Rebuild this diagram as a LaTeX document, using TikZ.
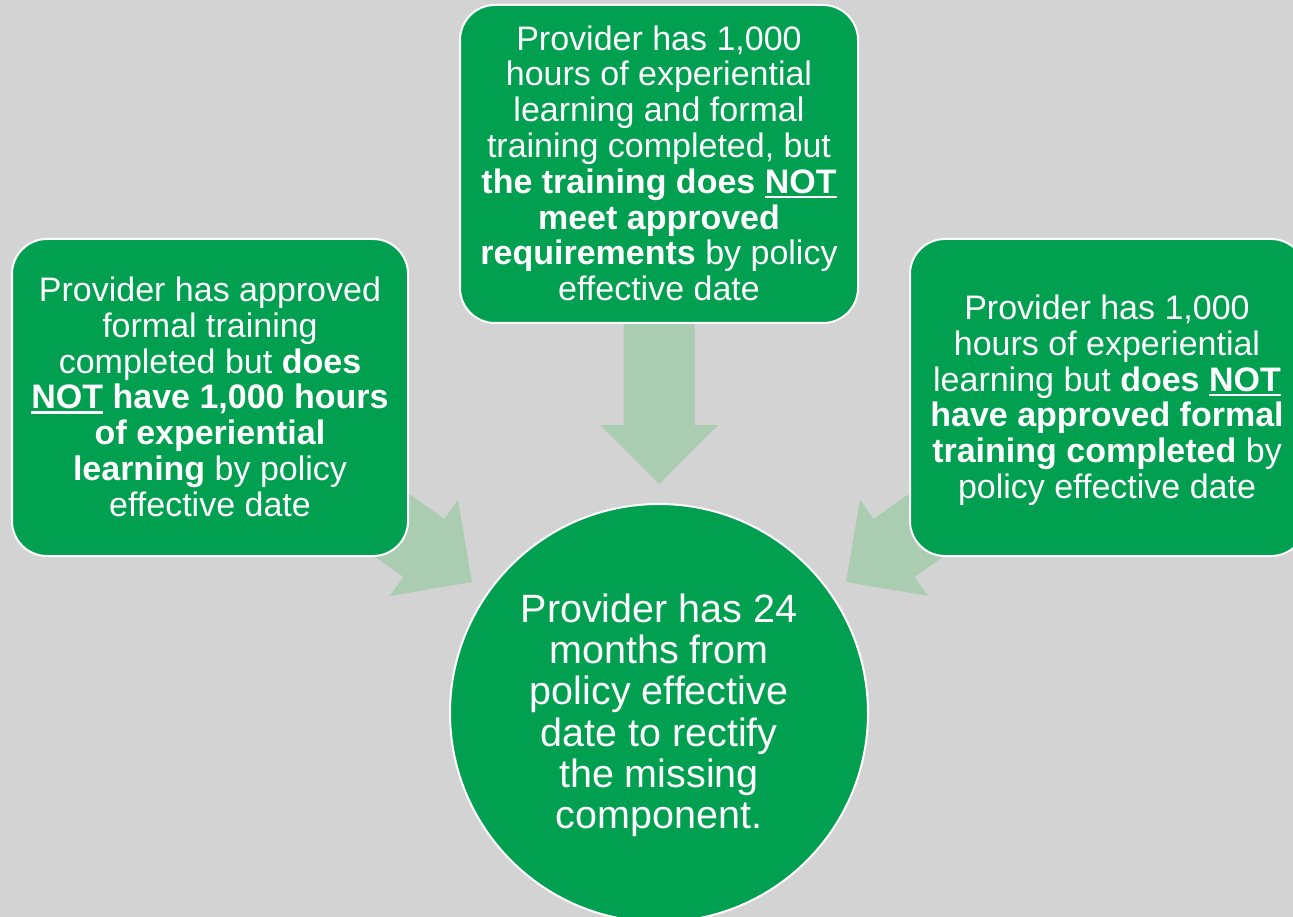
\documentclass[tikz,border=0pt]{standalone}
\usepackage{fontspec}
\setmainfont{Liberation Sans}
\definecolor{bggray}{RGB}{211,211,211}
\definecolor{boxgreen}{RGB}{0,160,80}
\definecolor{arrowgreen}{RGB}{170,205,178}
\newcommand\myul[1]{\leavevmode\setbox0\hbox{#1}\rlap{\rule[-5pt]{\wd0}{2.5pt}}\box0\relax}
\tikzset{
  greenbox/.style={draw=white, line width=2pt, fill=boxgreen, rounded corners=35pt,
    minimum width=396pt, minimum height=317pt, inner sep=0pt},
  greencircle/.style={circle, draw=white, line width=2pt, fill=boxgreen,
    minimum size=418pt, inner sep=0pt},
  boxtext/.style={text=white, align=center, inner sep=0pt, anchor=north,
    font={\fontsize{34pt}{35.8pt}\selectfont\lineskiplimit=-100pt}},
  circtext/.style={text=white, align=center, inner sep=0pt, anchor=north,
    font={\fontsize{39.5pt}{41.2pt}\selectfont\lineskiplimit=-100pt}},
  blockarrow/.style={fill=arrowgreen, draw=none}
}
\begin{document}
\begin{tikzpicture}[x=1pt,y=-1pt]
\useasboundingbox (0,0) rectangle (1293,917);
\clip (0,0) rectangle (1293,917);
\fill[bggray] (0,0) rectangle (1293,917);
% block arrows (behind the boxes)
\fill[blockarrow] (623.5,300) -- (694.5,300) -- (694.5,425) -- (718,425) -- (659,484)
  -- (600,425) -- (623.5,425) -- cycle;
\fill[blockarrow] (305.5,507.5) -- (403.4,576.9) -- (389.8,596.0) -- (472,582)
  -- (458.0,499.8) -- (444.4,518.9) -- (346.5,449.5) -- cycle;
\fill[blockarrow] (1012.5,507.5) -- (914.6,576.9) -- (928.2,596.0) -- (846,582)
  -- (860.0,499.8) -- (873.6,518.9) -- (971.5,449.5) -- cycle;
% boxes
\node[greenbox] (lbox) at (210,397.5) {};
\node[greenbox, minimum width=398pt, minimum height=318pt] (cbox) at (659,164) {};
\node[greenbox] (rbox) at (1108,397.5) {};
\node[greencircle] (circ) at (659,713) {};
% texts
\node[boxtext] (ltext) at (210,276.7) {Provider has approved\\ formal training\\ completed but \textbf{does}\\ \textbf{\myul{NOT} have 1,000 hours}\\ \textbf{of experiential}\\ \textbf{learning} by policy\\ effective date};
\node[boxtext] (ctext) at (659,25.2) {Provider has 1,000\\ hours of experiential\\ learning and formal\\ training completed, but\\ \textbf{the training does \myul{NOT}}\\ \textbf{meet approved}\\ \textbf{requirements} by policy\\ effective date};
\node[boxtext] (rtext) at (1107,294.7) {Provider has 1,000\\ hours of experiential\\ learning but \textbf{does \myul{NOT}}\\ \textbf{have approved formal}\\ \textbf{training completed} by\\ policy effective date};
\node[circtext] (circtext) at (659,593.7) {Provider has 24\\ months from\\ policy effective\\ date to rectify\\ the missing\\ component.};
\end{tikzpicture}
\end{document}
